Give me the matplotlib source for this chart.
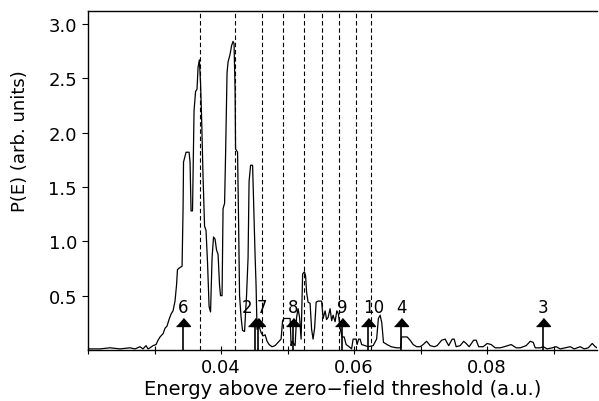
import matplotlib
matplotlib.use("Agg")
import matplotlib.pyplot as plt
import numpy as np

# spectrum P(E)
energy = [0.02000, 0.02180, 0.02331, 0.02481, 0.02632, 0.02707, 0.02782, 0.02827, 0.02872, 0.02902,
          0.02932, 0.02977, 0.03023, 0.03053, 0.03083, 0.03128, 0.03158, 0.03188, 0.03218, 0.03248,
          0.03278, 0.03308, 0.03331, 0.03345, 0.03383, 0.03414, 0.03429, 0.03436, 0.03474, 0.03519,
          0.03534, 0.03549, 0.03571, 0.03594, 0.03617, 0.03639, 0.03654, 0.03674, 0.03692, 0.03707,
          0.03729, 0.03752, 0.03774, 0.03797, 0.03820, 0.03842, 0.03865, 0.03887, 0.03910, 0.03932,
          0.03955, 0.03977, 0.03992, 0.04015, 0.04030, 0.04053, 0.04068, 0.04090, 0.04105, 0.04135,
          0.04158, 0.04180, 0.04195, 0.04211, 0.04218, 0.04248, 0.04263, 0.04278, 0.04301, 0.04323,
          0.04353, 0.04383, 0.04406, 0.04421, 0.04444, 0.04474, 0.04496, 0.04511, 0.04526, 0.04541,
          0.04571, 0.04602, 0.04632, 0.04662, 0.04692, 0.04722, 0.04767, 0.04812, 0.04857, 0.04902,
          0.04925, 0.04947, 0.05038, 0.05053, 0.05068, 0.05113, 0.05135, 0.05158, 0.05180, 0.05203,
          0.05226, 0.05253, 0.05271, 0.05286, 0.05308, 0.05338, 0.05361, 0.05383, 0.05406, 0.05429,
          0.05459, 0.05511, 0.05534, 0.05564, 0.05586, 0.05609, 0.05639, 0.05662, 0.05684, 0.05714,
          0.05740, 0.05764, 0.05789, 0.05820, 0.05850, 0.05880, 0.05925, 0.05962, 0.05985, 0.06030,
          0.06045, 0.06068, 0.06090, 0.06113, 0.06165, 0.06211, 0.06286, 0.06338, 0.06365, 0.06391,
          0.06416, 0.06441, 0.06496, 0.06556, 0.06639, 0.06699, 0.06714, 0.06797, 0.06842, 0.06887,
          0.06940, 0.06992, 0.07038, 0.07090, 0.07143, 0.07203, 0.07248, 0.07316, 0.07368, 0.07421,
          0.07474, 0.07504, 0.07534, 0.07594, 0.07647, 0.07684, 0.07729, 0.07797, 0.07835, 0.07872,
          0.07940, 0.08000, 0.08060, 0.08120, 0.08195, 0.08256, 0.08361, 0.08436, 0.08496, 0.08586,
          0.08647, 0.08692, 0.08722, 0.08797, 0.08842, 0.08902, 0.08977, 0.09038, 0.09098, 0.09173,
          0.09248, 0.09308, 0.09398, 0.09459, 0.09519, 0.09579, 0.09624, 0.09654]
prob = [0.01, 0.01, 0.02, 0.01, 0.02, 0.01, 0.03, 0.01, 0.04, 0.01,
        0.02, 0.04, 0.05, 0.09, 0.12, 0.15, 0.20, 0.22, 0.28, 0.33,
        0.36, 0.45, 0.60, 0.74, 0.76, 0.77, 1.30, 1.73, 1.82, 1.82,
        1.73, 1.28, 1.28, 2.20, 2.38, 2.40, 2.60, 2.67, 2.45, 2.15,
        1.60, 1.14, 1.10, 0.80, 0.40, 0.35, 0.85, 1.04, 1.02, 0.92,
        0.88, 0.60, 0.50, 0.50, 1.30, 1.35, 1.80, 2.55, 2.65, 2.72,
        2.80, 2.84, 2.82, 2.40, 1.85, 1.82, 1.20, 0.50, 0.30, 0.18,
        0.17, 0.50, 0.85, 1.55, 1.70, 1.70, 1.20, 0.88, 0.60, 0.19,
        0.22, 0.16, 0.13, 0.14, 0.08, 0.05, 0.03, 0.04, 0.07, 0.10,
        0.27, 0.29, 0.29, 0.04, 0.08, 0.04, 0.30, 0.38, 0.30, 0.10,
        0.70, 0.72, 0.68, 0.53, 0.44, 0.43, 0.19, 0.10, 0.20, 0.44,
        0.45, 0.45, 0.29, 0.36, 0.28, 0.30, 0.38, 0.27, 0.32, 0.26,
        0.36, 0.33, 0.20, 0.12, 0.12, 0.05, 0.03, 0.01, 0.10, 0.10,
        0.05, 0.10, 0.10, 0.05, 0.04, 0.03, 0.04, 0.10, 0.29, 0.32,
        0.25, 0.07, 0.05, 0.03, 0.02, 0.02, 0.12, 0.12, 0.09, 0.05,
        0.03, 0.03, 0.05, 0.08, 0.04, 0.03, 0.04, 0.09, 0.10, 0.04,
        0.10, 0.10, 0.03, 0.04, 0.08, 0.06, 0.03, 0.09, 0.09, 0.03,
        0.03, 0.06, 0.05, 0.02, 0.02, 0.03, 0.05, 0.02, 0.02, 0.04,
        0.08, 0.07, 0.02, 0.02, 0.03, 0.01, 0.02, 0.03, 0.01, 0.02,
        0.03, 0.01, 0.03, 0.01, 0.02, 0.06, 0.03, 0.02]

# dashed reference energies
dashed_energy = [0.03684, 0.04211, 0.04609, 0.04932, 0.05241, 0.05519, 0.05767, 0.06030, 0.06256]

# numbered arrows
arrow_energy = [0.03433, 0.04511, 0.04556, 0.05083, 0.05815, 0.06211, 0.06707, 0.08838]
arrow_text = ['6', '2', '7', '8', '9', '10', '4', '3']
arrow_text_x = [0.0343, 0.0439, 0.0461, 0.0508, 0.0582, 0.0630, 0.0671, 0.0884]

fig = plt.figure(figsize=(5.99, 4.02), dpi=100)
ax = fig.add_axes([0.1469, 0.1269, 0.8497, 0.8433])

ax.plot(energy, prob, color='black', linewidth=0.9)

for e in dashed_energy:
    ax.axvline(e, color='black', linewidth=0.8, linestyle=(0, (4, 2.5)))

tri = [(-7, -4), (7, -4), (0, 4)]
for e, t, tx in zip(arrow_energy, arrow_text, arrow_text_x):
    ax.plot([e, e], [0, 0.23], color='black', linewidth=1.2)
    ax.plot(e, 0.258, marker=tri, markersize=10, color='black', linestyle='none')
    ax.text(tx, 0.395, t, ha='center', va='center', fontsize=12)

ax.set_xlim(0.02, 0.0965)
ax.set_ylim(0, 3.12)

ax.set_xticks([0.02, 0.03, 0.04, 0.05, 0.06, 0.07, 0.08, 0.09])
ax.set_xticklabels(['', '', '0.04', '', '0.06', '', '0.08', ''])
ax.set_yticks([0.5, 1.0, 1.5, 2.0, 2.5, 3.0])
ax.set_yticklabels(['0.5', '1.0', '1.5', '2.0', '2.5', '3.0'])
ax.tick_params(axis='x', direction='inout', length=6, width=0.8, labelsize=13, pad=3)
ax.tick_params(axis='y', direction='out', length=4, width=0.8, labelsize=13, pad=4)

ax.spines['right'].set_visible(False)
for s in ['left', 'bottom', 'top']:
    ax.spines[s].set_linewidth(1.0)

ax.set_xlabel('Energy above zero\u2212field threshold (a.u.)', fontsize=14, labelpad=2)
ax.set_ylabel('P(E) (arb. units)', fontsize=13, labelpad=6)
ax.yaxis.set_label_coords(-0.115, 0.62)

fig.savefig('out.png', dpi=100)
